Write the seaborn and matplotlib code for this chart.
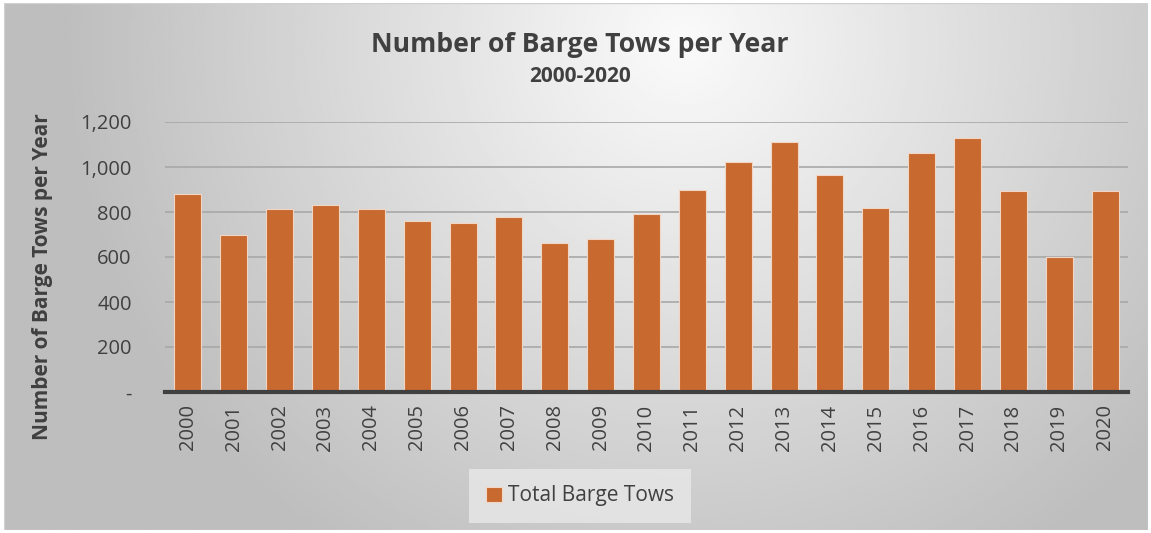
import numpy as np
import pandas as pd
import matplotlib.pyplot as plt
import seaborn as sns
from matplotlib.ticker import FuncFormatter
from matplotlib.patches import Rectangle

# data
years = [str(y) for y in range(2000, 2021)]
tows = [881, 697, 815, 832, 815, 758, 752, 780, 661, 679, 792,
        897, 1021, 1113, 963, 816, 1062, 1131, 892, 602, 892]
yticks = [0, 200, 400, 600, 800, 1000, 1200]

df = pd.DataFrame({'year': years, 'tows': tows})

sns.set_theme(style='white')
plt.rcParams['font.family'] = ['Open Sans', 'DejaVu Sans']

W, H = 1151, 533
fig = plt.figure(figsize=(W / 100, H / 100), dpi=100)
fig.patch.set_facecolor('white')

# gradient background panel (Excel style)
bg = fig.add_axes([4 / W, 3 / H, 1144 / W, 527 / H])
gx, gy = np.meshgrid(np.linspace(0, 1144, 400), np.linspace(0, 527, 200))
d = np.sqrt(((gx - 680) / 660) ** 2 + ((gy - 40) / 650) ** 2)
shade = np.clip(250 - 64 * d, 190, 250) / 255
bg.imshow(shade, cmap='gray', vmin=0, vmax=1, aspect='auto',
          extent=[0, 1, 0, 1], origin='upper')
bg.set_axis_off()
bg.add_patch(Rectangle((0, 0), 1, 1, transform=bg.transAxes, fill=False,
                       edgecolor='#d0d0d0', lw=1))

ax = fig.add_axes([165 / W, 1 - 392 / H, (1128 - 165) / W, (392 - 122) / H])
ax.patch.set_alpha(0)

sns.barplot(data=df, x='year', y='tows', color='#c8692f', width=0.59,
            saturation=1, edgecolor='#f2d6c4', linewidth=0.8, ax=ax,
            label='Total Barge Tows', zorder=3)

ax.set_ylim(0, 1200)
ax.set_xlim(-0.5, len(years) - 0.5)
ax.set_yticks(yticks)
ax.yaxis.set_major_formatter(FuncFormatter(lambda v, p: '-' if v == 0 else f'{int(v):,}'))
ax.grid(axis='y', color='#a8a8a8', lw=1.2, zorder=0)
ax.set_axisbelow(True)
for s in ['top', 'right', 'left']:
    ax.spines[s].set_visible(False)
ax.spines['bottom'].set_color('#404040')
ax.spines['bottom'].set_linewidth(3)
ax.spines['bottom'].set_zorder(4)
ax.tick_params(axis='both', length=0, colors='#404040', labelsize=14.5)
ax.tick_params(axis='y', pad=24)
ax.tick_params(axis='x', pad=9, labelrotation=90)
ax.set_xlabel('')
ax.set_ylabel('Number of Barge Tows per Year', fontsize=15, fontweight='bold',
              color='#404040')
ax.yaxis.set_label_coords((53 - 165) / (1128 - 165), (392 - 277) / (392 - 122))

fig.text(580 / W, 1 - 45 / H, 'Number of Barge Tows per Year', ha='center', va='center',
         fontsize=19.2, fontweight='bold', color='#404040')
fig.text(580 / W, 1 - 77 / H, '2000-2020', ha='center', va='center',
         fontsize=15, fontweight='bold', color='#404040')

leg = ax.legend(loc='center', bbox_to_anchor=(580 / W, 1 - 496 / H),
                bbox_transform=fig.transFigure, frameon=True, fontsize=15,
                handlelength=0.75, handleheight=0.75, handletextpad=0.3,
                borderpad=0.8, borderaxespad=0, fancybox=False)
leg.get_frame().set_facecolor('#e8e8e8')
leg.get_frame().set_edgecolor('none')
for t in leg.get_texts():
    t.set_color('#404040')

fig.savefig('out.png', dpi=100)
